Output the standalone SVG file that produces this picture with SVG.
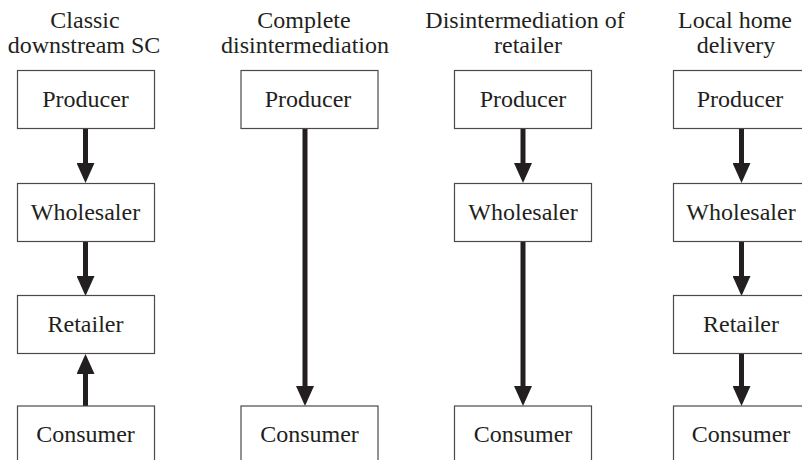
<svg xmlns="http://www.w3.org/2000/svg" width="802" height="460" viewBox="0 0 802 460" font-family="'Liberation Serif', 'Times New Roman', Tinos, 'DejaVu Serif', serif">
<style>
text{font-family:'Liberation Serif','Times New Roman',Tinos,'DejaVu Serif',serif;font-size:24px;fill:#231f20;text-anchor:middle}
.box{fill:#fff;stroke:#4a4a4a;stroke-width:1.2}
.arr{stroke:#231f20;stroke-width:5;fill:none;marker-end:url(#ah)}
</style>
<defs>
<marker id="ah" markerUnits="userSpaceOnUse" markerWidth="20" markerHeight="18" viewBox="0 0 20 18" refX="10" refY="9" orient="auto">
<path d="M0,0 L20,9 L0,18 z" fill="#231f20"/>
</marker>
</defs>
<rect width="802" height="460" fill="#fff"/>
<g id="titles">
<text x="85" y="28">Classic</text>
<text x="84" y="53">downstream SC</text>
<text x="304" y="28">Complete</text>
<text x="305" y="53">disintermediation</text>
<text x="525" y="28">Disintermediation of</text>
<text x="528" y="53">retailer</text>
<text x="735" y="28">Local home</text>
<text x="736" y="53">delivery</text>
</g>
<g id="connectors">
<line class="arr" x1="85.5" y1="129" x2="85.5" y2="173"/>
<line class="arr" x1="85.5" y1="241" x2="85.5" y2="286"/>
<line class="arr" x1="85.5" y1="406" x2="85.5" y2="364"/>
<line class="arr" x1="305" y1="129" x2="305" y2="396"/>
<line class="arr" x1="523" y1="129" x2="523" y2="173"/>
<line class="arr" x1="523" y1="241" x2="523" y2="396"/>
<line class="arr" x1="741.5" y1="129" x2="741.5" y2="173"/>
<line class="arr" x1="741.5" y1="241" x2="741.5" y2="286"/>
<line class="arr" x1="741.5" y1="354" x2="741.5" y2="396"/>
</g>
<g id="c1-producer"><rect class="box" x="17.5" y="70.5" width="137" height="58"/><text x="85.5" y="107">Producer</text></g>
<g id="c1-wholesaler"><rect class="box" x="17.5" y="183.5" width="137" height="58"/><text x="85.5" y="220">Wholesaler</text></g>
<g id="c1-retailer"><rect class="box" x="17.5" y="295.5" width="137" height="58"/><text x="85.5" y="332">Retailer</text></g>
<g id="c1-consumer"><rect class="box" x="17.5" y="406" width="137" height="58"/><text x="85.5" y="442">Consumer</text></g>
<g id="c2-producer"><rect class="box" x="241" y="70.5" width="137" height="58"/><text x="308" y="107">Producer</text></g>
<g id="c2-consumer"><rect class="box" x="241" y="406" width="137" height="58"/><text x="309.5" y="442">Consumer</text></g>
<g id="c3-producer"><rect class="box" x="454.5" y="70.5" width="137" height="58"/><text x="523" y="107">Producer</text></g>
<g id="c3-wholesaler"><rect class="box" x="454.5" y="183.5" width="137" height="58"/><text x="523" y="220">Wholesaler</text></g>
<g id="c3-consumer"><rect class="box" x="454.5" y="406" width="137" height="58"/><text x="523" y="442">Consumer</text></g>
<g id="c4-producer"><rect class="box" x="673.5" y="70.5" width="137" height="58"/><text x="740" y="107">Producer</text></g>
<g id="c4-wholesaler"><rect class="box" x="673.5" y="183.5" width="137" height="58"/><text x="741" y="220">Wholesaler</text></g>
<g id="c4-retailer"><rect class="box" x="673.5" y="295.5" width="137" height="58"/><text x="741" y="332">Retailer</text></g>
<g id="c4-consumer"><rect class="box" x="673.5" y="406" width="137" height="58"/><text x="741" y="442">Consumer</text></g>
</svg>
